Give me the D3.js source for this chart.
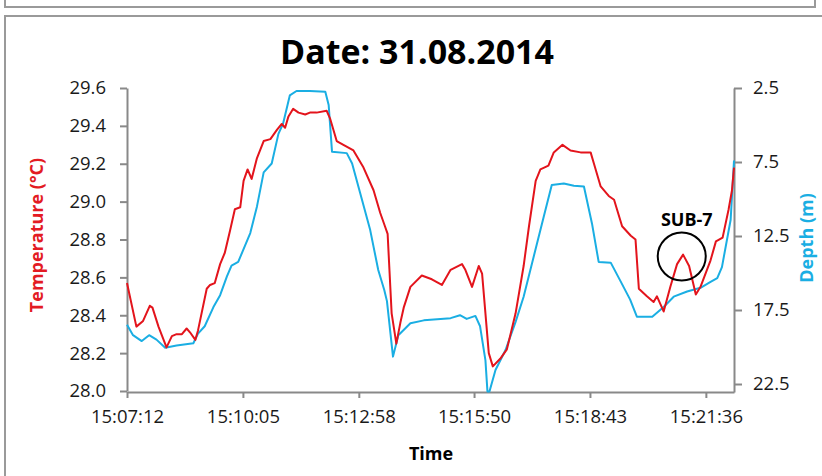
<!DOCTYPE html>
<html>
<head>
<meta charset="utf-8">
<title>Date: 31.08.2014</title>
<script src="https://cdn.jsdelivr.net/npm/d3@7"></script>
<style>
  body { margin: 0; background: #fff; }
  svg { display: block; font-family: "Open Sans", "Noto Sans", sans-serif; }
  .axis path, .axis line { stroke: #898989; stroke-width: 2; }
  .axis text { fill: #1a1a1a; font-size: 18.5px; font-family: "Open Sans", "Noto Sans", sans-serif; }
</style>
</head>
<body>
<div id="chart"></div>
<script>
// Temperature / depth record, 31.08.2014 (seconds after 15:07:12)
const startTime = new Date(2014, 7, 31, 15, 7, 12);

const tempSeconds = [0, 14, 24, 34, 38, 47, 59, 67, 74, 82, 89, 94, 102, 106, 119, 124, 131, 139, 146, 154,
  161, 169, 174, 180, 186, 194, 204, 214, 224, 231, 236, 241, 248, 256, 266, 273, 283, 298, 303, 313,
  323, 338, 353, 368, 378, 385, 389, 395, 402, 408, 413, 423, 440, 455, 470, 483, 500, 505, 515, 525,
  530, 540, 546, 557, 567, 580, 592, 600, 610, 617, 629, 637, 650, 662, 677, 692, 697, 707, 719, 727,
  739, 752, 759, 764, 776, 786, 791, 801, 811, 821, 830, 839, 849, 856, 871, 879, 889, 898, 903, 906];
const tempValues = [28.57, 28.34, 28.37, 28.45, 28.44, 28.34, 28.23, 28.29, 28.30, 28.30, 28.33, 28.31, 28.27, 28.32, 28.54, 28.56, 28.57, 28.67, 28.73, 28.85,
  28.96, 28.97, 29.11, 29.17, 29.12, 29.23, 29.32, 29.33, 29.38, 29.41, 29.39, 29.45, 29.49, 29.47, 29.46, 29.47, 29.47, 29.48, 29.44, 29.32,
  29.30, 29.27, 29.18, 29.06, 28.94, 28.87, 28.83, 28.41, 28.25, 28.36, 28.44, 28.55, 28.61, 28.59, 28.56, 28.64, 28.67, 28.64, 28.55, 28.66,
  28.62, 28.20, 28.13, 28.17, 28.22, 28.41, 28.66, 28.87, 29.11, 29.17, 29.19, 29.26, 29.30, 29.27, 29.26, 29.26, 29.20, 29.08, 29.03, 29.01,
  28.87, 28.82, 28.80, 28.54, 28.50, 28.47, 28.50, 28.42, 28.55, 28.67, 28.72, 28.66, 28.51, 28.55, 28.69, 28.79, 28.81, 28.96, 29.06, 29.18];

const depthSeconds = [0, 9, 22, 33, 44, 57, 74, 99, 106, 116, 129, 139, 149, 156, 166, 184, 194, 204, 216, 226,
  233, 243, 253, 273, 296, 301, 306, 328, 336, 348, 363, 375, 384, 388, 397, 405, 423, 443, 483, 497,
  507, 520, 527, 535, 538, 541, 550, 565, 580, 592, 607, 622, 634, 652, 667, 682, 694, 704, 722, 736,
  751, 761, 784, 801, 816, 836, 856, 871, 881, 888, 901, 906];
const depthValues = [18.5, 19.2, 19.6, 19.2, 19.5, 20.05, 19.9, 19.75, 19.1, 18.6, 17.3, 16.5, 15.25, 14.5, 14.25, 12.3, 10.5, 8.2, 7.6, 5.6,
  4.9, 3.0, 2.7, 2.7, 2.75, 3.65, 6.8, 6.9, 7.6, 9.6, 12.1, 14.8, 16.15, 16.9, 20.65, 19.2, 18.4, 18.2, 18.05, 17.85,
  18.1, 17.9, 18.6, 20.9, 23.0, 23.0, 21.55, 20.2, 18.3, 16.6, 13.9, 11.2, 9.05, 8.95, 9.1, 9.15, 11.65, 14.25, 14.3, 15.5,
  16.8, 17.95, 17.95, 17.3, 16.6, 16.25, 16.0, 15.6, 15.35, 14.6, 11.4, 7.4];

const xTickSeconds = [0, 173, 346, 518, 691, 864];
const tempTicks = [28.0, 28.2, 28.4, 28.6, 28.8, 29.0, 29.2, 29.4, 29.6];
const depthTicks = [2.5, 7.5, 12.5, 17.5, 22.5];

// annotated event
const noteLabel = "SUB-7";
const noteSeconds = 828;
const noteTemp = 28.71;

const toTime = (s) => new Date(startTime.getTime() + s * 1000);
const tempData = tempSeconds.map((s, i) => ({ t: toTime(s), v: tempValues[i] }));
const depthData = depthSeconds.map((s, i) => ({ t: toTime(s), v: depthValues[i] }));

const svgWidth = 822;
const svgHeight = 476;
const plot = { left: 127, right: 734, top: 88, bottom: 392 };

const red = "#e3141c";
const blue = "#1aaee3";

const svg = d3
  .select("#chart")
  .append("svg")
  .attr("width", svgWidth)
  .attr("height", svgHeight);

svg.append("rect").attr("width", svgWidth).attr("height", svgHeight).attr("fill", "#fff");

// panel frames (bottom of the panel above, and this panel)
const frame = svg.append("g").attr("stroke", "#9a9a9a").attr("stroke-width", 2).attr("fill", "none");
frame.append("path").attr("d", "M5,0V7H815V0");
frame.append("path").attr("d", "M5,476V16H822");

// scales
const x = d3
  .scaleTime()
  .domain([startTime, toTime(906)])
  .range([plot.left, plot.right]);

const yTemp = d3.scaleLinear().domain([28, 29.6]).range([plot.bottom - 1, plot.top]);

const yDepth = d3.scaleLinear().domain([2.5, 23.04]).range([plot.top, plot.bottom]);

// axes
svg
  .append("g")
  .attr("class", "axis")
  .attr("transform", `translate(0,${plot.bottom})`)
  .call(
    d3
      .axisBottom(x)
      .tickValues(xTickSeconds.map(toTime))
      .tickFormat(d3.timeFormat("%H:%M:%S"))
      .tickSize(6)
      .tickSizeOuter(0)
      .tickPadding(12)
  );

svg
  .append("g")
  .attr("class", "axis")
  .attr("transform", `translate(${plot.left},0)`)
  .call(
    d3
      .axisLeft(yTemp)
      .tickValues(tempTicks)
      .tickFormat(d3.format(".1f"))
      .tickSize(7)
      .tickSizeOuter(0)
      .tickPadding(14)
  );

svg
  .append("g")
  .attr("class", "axis")
  .attr("transform", `translate(${plot.right},0)`)
  .call(
    d3
      .axisRight(yDepth)
      .tickValues(depthTicks)
      .tickFormat(d3.format(".1f"))
      .tickSize(8)
      .tickSizeOuter(0)
      .tickPadding(11)
  );

// lines
const tempLine = d3.line().x((d) => x(d.t)).y((d) => yTemp(d.v));
const depthLine = d3.line().x((d) => x(d.t)).y((d) => yDepth(d.v));

svg
  .append("path")
  .datum(depthData)
  .attr("fill", "none")
  .attr("stroke", blue)
  .attr("stroke-width", 2)
  .attr("stroke-linejoin", "round")
  .attr("d", depthLine);

svg
  .append("path")
  .datum(tempData)
  .attr("fill", "none")
  .attr("stroke", red)
  .attr("stroke-width", 2)
  .attr("stroke-linejoin", "round")
  .attr("d", tempLine);

// annotation
const cx = x(toTime(noteSeconds));
const cy = yTemp(noteTemp);
svg
  .append("circle")
  .attr("cx", cx)
  .attr("cy", cy)
  .attr("r", 24)
  .attr("fill", "none")
  .attr("stroke", "#000")
  .attr("stroke-width", 2);

svg
  .append("text")
  .attr("x", cx + 5)
  .attr("y", cy - 31)
  .attr("text-anchor", "middle")
  .attr("font-size", 18)
  .attr("font-weight", "bold")
  .text(noteLabel);

// titles
svg
  .append("text")
  .attr("x", 417)
  .attr("y", 64)
  .attr("text-anchor", "middle")
  .attr("font-size", 34)
  .attr("font-weight", "bold")
  .text("Date: 31.08.2014");

svg
  .append("text")
  .attr("x", 431)
  .attr("y", 460)
  .attr("text-anchor", "middle")
  .attr("font-size", 18)
  .attr("font-weight", "bold")
  .text("Time");

svg
  .append("text")
  .attr("transform", "translate(43,235) rotate(-90)")
  .attr("text-anchor", "middle")
  .attr("font-size", 18)
  .attr("font-weight", "bold")
  .attr("fill", "#e31b23")
  .text("Temperature (°C)");

svg
  .append("text")
  .attr("transform", "translate(813,238) rotate(-90)")
  .attr("text-anchor", "middle")
  .attr("font-size", 18)
  .attr("font-weight", "bold")
  .attr("fill", blue)
  .text("Depth (m)");
</script>
</body>
</html>
